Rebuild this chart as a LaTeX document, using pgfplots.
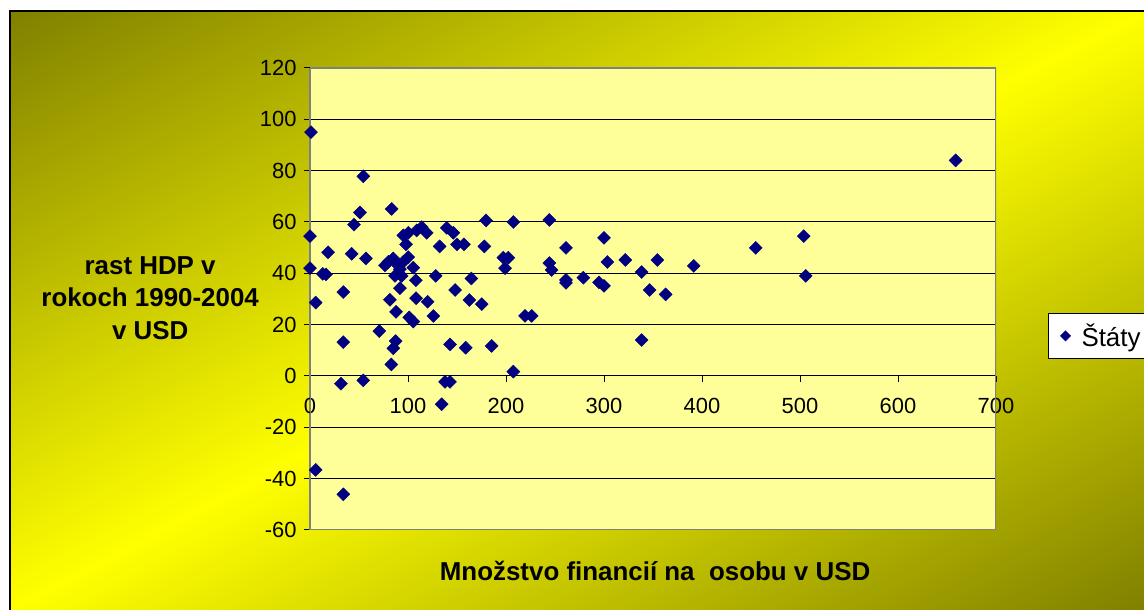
\documentclass[border=0pt]{standalone}
\usepackage{pgfplots}
\pgfplotsset{compat=1.18}
\usepackage{fontspec}
\setmainfont{Liberation Sans}
\definecolor{bgolive}{RGB}{128,128,0}
\definecolor{bgyellow}{RGB}{255,255,0}
\definecolor{plotbg}{RGB}{255,255,153}
\definecolor{marknavy}{RGB}{0,0,128}
\definecolor{bordergray}{RGB}{128,128,128}
\pgfplotstableread{
x y
1 95
54.4 77.8
83.3 65.1
51 63.7
44.9 59
0 54.5
18.4 48.2
42.5 47.6
57.1 45.8
0 42
13 39.8
16.3 39.6
34 32.7
5.8 28.6
34 13.2
31.6 -3
54.4 -1.7
5.8 -36.6
34 -46.1
70.7 17.5
81.6 29.7
87.8 25
87.4 13.6
85 10.8
83 4.5
95.2 54.8
100.3 55.8
98 51.3
108.9 56.7
114 58
119.1 55.8
139.5 57.7
146.2 55.8
132.3 50.5
150 51.3
157.1 51.3
177.9 50.5
179.6 60.6
76.5 43.1
85 45.8
95.2 44.5
100.3 46.3
105.4 42.2
91.8 41.6
86.7 39
93.5 39
108.1 37.3
128.3 39
164.7 38
91.8 34.2
148 33.5
108.2 30.3
120 28.9
162.6 29.6
175.2 28
125.9 23.4
101.3 22.8
105.4 21.2
142.9 12.3
158.9 11
185.4 11.7
137.8 -2.3
142.9 -2.3
134.4 -11
207.5 1.7
207.5 60
244.2 60.8
300 53.8
261.2 49.9
197.3 46.1
202.4 46.1
199 42
244.2 44
246.6 41.3
303.4 44.4
321.7 45.2
354.4 45.2
391.5 42.9
338.4 40.5
261.2 37.4
261.2 36.3
278.9 38.3
294.9 36.5
300 35.1
346.6 33.5
362.9 31.8
219.4 23.4
226.2 23.4
338.4 14
658.8 84
503.8 54.5
454.8 49.9
505.8 39
90 43
80 44.5
}\datatable
\begin{document}
\begin{tikzpicture}[x=1bp,y=1bp]
\useasboundingbox (0,0) rectangle (1144,610);
\clip (0,0) rectangle (1144,610);
\begin{scope}
\clip (10,-5) rectangle (1150,599);
\begin{scope}[transform canvas={rotate around={27.85:(577,299.5)}}]
\shade[top color=bgolive, bottom color=bgolive, middle color=bgyellow] (-500,-230.2) rectangle (1654,829.2);
\end{scope}
\end{scope}
\draw[black, line width=1.2bp] (10,-5) -- (10,599) -- (1150,599);
\begin{axis}[
  at={(310bp,80bp)}, anchor=south west,
  scale only axis, width=686bp, height=462bp,
  xmin=0, xmax=700, ymin=-60, ymax=120,
  axis x line=middle, axis y line=left,
  axis line style={-},
  x axis line style={black, line width=1bp},
  y axis line style={bordergray, line width=1.5bp},
  xtick={0,100,...,700}, ytick={-60,-40,...,120},
  hide obscured x ticks=false, hide obscured y ticks=false,
  tick align=outside, major tick length=6bp,
  tick style={black, line width=1bp},
  ymajorgrids, grid style={black, line width=1bp},
  axis background/.style={fill=plotbg},
  tick label style={font=\fontsize{22}{26}\selectfont},
  xticklabel style={yshift=-13bp},
  yticklabel style={xshift=-4bp},
  /pgf/number format/assume math mode=true,
  /pgf/number format/1000 sep={},
  xlabel={Množstvo financií na~~osobu v USD},
  every axis x label/.style={at={(axis description cs:0.503,-0.0887)}, anchor=center, font=\fontsize{26}{30}\selectfont\bfseries},
  ylabel={rast HDP v\\rokoch 1990-2004\\v USD},
  every axis y label/.style={at={(axis description cs:-0.233,0.502)}, anchor=center, align=center, font=\fontsize{26}{32.5}\selectfont\bfseries},
  legend style={at={(axis description cs:1.0758,0.42)}, anchor=west, draw=black, line width=1bp, fill=white, font=\fontsize{26}{30}\selectfont, inner xsep=4bp, inner ysep=8bp},
  legend image code/.code={\path[draw=none, fill=none] (0bp,-1bp) rectangle (27bp,1bp); \path[draw=none, fill=none, mark=square*, mark size=3.4bp, mark options={rotate=45, fill=marknavy, draw=marknavy}] plot coordinates {(13bp,0bp)};},
]
\draw[bordergray, line width=1.5bp] (rel axis cs:0,0) rectangle (rel axis cs:1,1);
\addplot[only marks, mark=square*, mark size=4.6bp, mark options={rotate=45, fill=marknavy, draw=marknavy}] table[x=x, y=y] {\datatable};
\addlegendentry{Štáty}
\end{axis}
\end{tikzpicture}
\end{document}
